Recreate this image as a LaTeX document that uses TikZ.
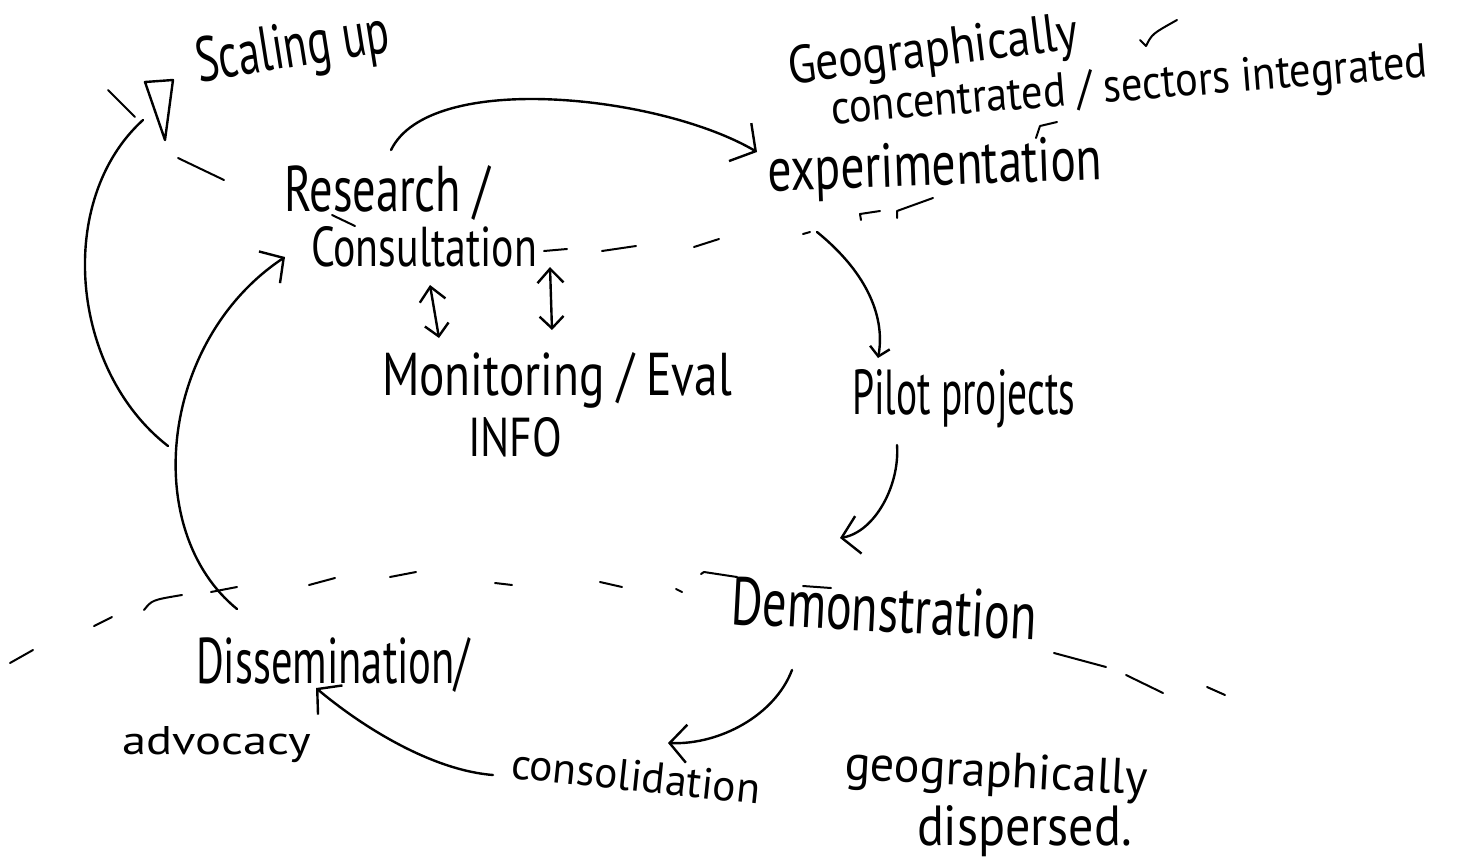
\documentclass[tikz,border=0pt]{standalone}
\usepackage{fontspec}
\setmainfont{PT Sans}
\usepackage{graphicx}
\usetikzlibrary{arrows.meta}
\newcommand{\hwt}[3]{\resizebox{#1pt}{#2pt}{#3}}
\begin{document}
\begin{tikzpicture}[x=1pt,y=-1pt,
  lbl/.style={inner sep=0pt, outer sep=0pt, anchor=base west, text=black},
  ink/.style={line width=2.4pt, line cap=round, line join=round, black},
  dsh/.style={line width=2pt, line cap=round, line join=round, black},
  tipbig/.style={ink, -{Straight Barb[length=18pt,width=44pt]}},
  tipmid/.style={ink, -{Straight Barb[length=17pt,width=38pt]}},
  tipsmall/.style={ink, -{Straight Barb[length=9pt,width=20pt]}},
  dbl/.style={ink, {Straight Barb[length=14pt,width=26pt]}-{Straight Barb[length=12pt,width=24pt]}}
]
\fill[white] (0,0) rectangle (1462,862);
\useasboundingbox (0,0) rectangle (1462,862);

% labels
\node[lbl, rotate=9] (scaling) at (199,82) {\hwt{195}{45}{Scaling up}};
\node[lbl, rotate=7] (geo1) at (790,84) {\hwt{292}{38}{Geographically}};
\node[lbl, rotate=4.5] (geo2) at (832,124) {\hwt{598}{34}{concentrated / sectors integrated}};
\node[lbl, rotate=2] (exper) at (768,191) {\hwt{335}{44}{experimentation}};
\node[lbl] (research) at (284,211) {\hwt{206}{46}{Research /}};
\node[lbl] (consult) at (311,266) {\hwt{226}{40}{Consultation}};
\node[lbl] (monitor) at (382,395) {\hwt{350}{43}{Monitoring / Eval}};
\node[lbl] (info) at (468,456) {\hwt{94}{39}{INFO}};
\node[lbl] (pilot) at (852,414) {\hwt{223}{45}{Pilot projects}};
\node[lbl, rotate=-3] (demo) at (730,624) {\hwt{306}{48}{Demonstration}};
\node[lbl] (dissem) at (196,683) {\hwt{274}{46}{Dissemination/}};
\node[lbl] (advocacy) at (122,754) {\hwt{189}{28}{advocacy}};
\node[lbl, rotate=-6] (consol) at (510,778) {\hwt{250}{31}{consolidation}};
\node[lbl, rotate=-3] (geo3) at (844,779) {\hwt{303}{35}{geographically}};
\node[lbl] (geo4) at (917,845) {\hwt{215}{40}{dispersed.}};

% scaling-up triangle
\draw[ink] (145,82) -- (173,80) -- (165,140) -- cycle;

% connectors
\draw[tipbig] ([xshift=4pt,yshift=15pt]research.north)
  .. controls (430,70) and (660,95) .. ([xshift=-11pt,yshift=39pt]exper.base west);
\draw[tipsmall] ([xshift=49pt,yshift=-41pt]exper.base west)
  .. controls (870,275) and (885,320) .. ([xshift=26pt,yshift=56pt]pilot.base west);
\draw[tipmid] ([xshift=45pt,yshift=-31pt]pilot.base west)
  .. controls (900,485) and (875,532) .. ([xshift=110pt,yshift=86pt]demo.base west);
\draw[tipmid] ([xshift=62pt,yshift=-46pt]demo.base west)
  .. controls (775,715) and (720,745) .. ([xshift=158pt,yshift=35pt]consol.base west);
\draw[tipmid] ([xshift=-17pt,yshift=3pt]consol.base west)
  .. controls (430,770) and (360,725) .. ([xshift=120pt,yshift=-5pt]dissem.base west);
\draw[tipmid] ([xshift=41pt,yshift=74pt]dissem.base west)
  .. controls (140,530) and (160,340) .. ([xshift=-26pt,yshift=9pt]consult.base west);
\coordinate (branch) at (168,446);
\draw[ink] (branch) .. controls (70,370) and (55,200) .. ([xshift=-56pt,yshift=-38pt]scaling.base west);
\draw[dbl] ([xshift=119pt,yshift=-19pt]consult.base west) -- ([xshift=57pt,yshift=57pt]monitor.base west);
\draw[dbl] ([xshift=239pt,yshift=-1pt]consult.base west) -- ([xshift=170pt,yshift=65pt]monitor.base west);

% upper dashed boundary
\draw[dsh] (108,90) -- (135,117);
\draw[dsh] (178,158) -- (224,180);
\draw[dsh] (544,251) -- (567,249);
\draw[dsh] (602,251) -- (636,246);
\draw[dsh] (694,247) -- (719,239);
\draw[dsh] (803,234) -- (810,232);
\draw[dsh] (861,220) -- (860,214) -- (880,211);
\draw[dsh] (897,218) -- (897,211) -- (933,198);
\draw[dsh] (1036,138) -- (1040,126) -- (1057,122);
\draw[dsh] (1140,40) -- (1146,46) .. controls (1152,34) .. (1177,20);

% lower dashed boundary
\draw[dsh] (10,663) -- (33,650);
\draw[dsh] (94,626) -- (112,617);
\draw[dsh] (144,610) .. controls (152,600) .. (182,595);
\draw[dsh] (211,592) -- (237,587);
\draw[dsh] (309,585) -- (335,578);
\draw[dsh] (390,577) -- (416,572);
\draw[dsh] (495,583) -- (512,585);
\draw[dsh] (600,582) -- (622,587);
\draw[dsh] (676,589) -- (682,592);
\draw[dsh] (701,574) -- (704,572) -- (737,577);
\draw[dsh] (803,586) -- (831,588);
\draw[dsh] (1054,653) -- (1106,667);
\draw[dsh] (1126,675) -- (1163,693);
\draw[dsh] (1207,687) -- (1225,695);

% small mark under Research
\draw[dsh] (332,215) -- (355,226);
\end{tikzpicture}
\end{document}
